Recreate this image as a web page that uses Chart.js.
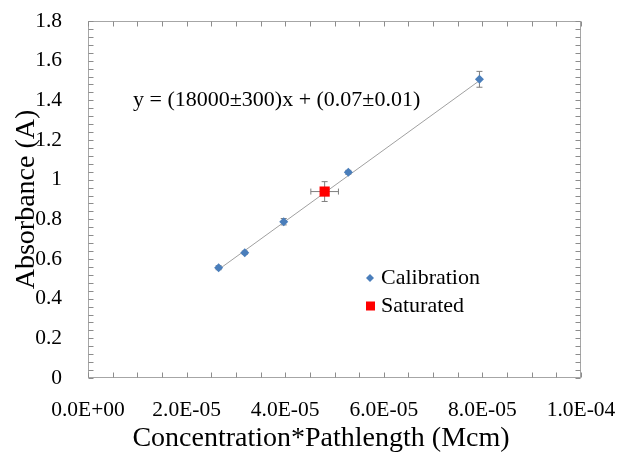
<!DOCTYPE html>
<html lang="en">
<head>
<meta charset="UTF-8" />
<title>Absorbance calibration</title>
<script src="https://cdn.jsdelivr.net/npm/chart.js"></script>
<style>
  html, body { margin: 0; padding: 0; background: #fff; }
  #wrap { width: 619px; height: 452px; }
</style>
</head>
<body>
<div id="wrap"><canvas id="absChart" width="619" height="452"></canvas></div>
<script>
// calibration standards: concentration*pathlength (M cm) vs absorbance
const calX = [2.65e-5, 3.18e-5, 3.97e-5, 5.28e-5, 7.94e-5];
const calY = [0.556, 0.632, 0.788, 1.037, 1.506];
const calYErr = [0.01, 0.008, 0.016, 0.01, 0.04];

// saturated sample placed on the fit
const satX = [4.80e-5];
const satY = [0.94];
const satXErr = [2.8e-6];
const satYErr = [0.05];

// linear fit: y = (18000±300)x + (0.07±0.01)
const fitSlope = 18000;
const fitIntercept = 0.07;
const fitLabel = 'y = (18000±300)x + (0.07±0.01)';

const yTickLabels = ['0', '0.2', '0.4', '0.6', '0.8', '1', '1.2', '1.4', '1.6', '1.8'];
const xTickLabels = ['0.0E+00', '2.0E-05', '4.0E-05', '6.0E-05', '8.0E-05', '1.0E-04'];
const xTitle = 'Concentration*Pathlength (Mcm)';
const yTitle = 'Absorbance (A)';

const serif = "'Liberation Serif', 'Times New Roman', serif";

const fitStart = calX[0];
const fitEnd = calX[calX.length - 1];

// error bars, inward ticks on all four sides, frame, legend, equation, x title
const decorPlugin = {
  id: 'decor',
  beforeDatasetsDraw(chart) {
    const ctx = chart.ctx;
    const xs = chart.scales.x, ys = chart.scales.y;
    const area = chart.chartArea;
    const L = Math.round(area.left) + 0.5, R = Math.round(area.right) - 0.5;
    const T = Math.round(area.top) + 0.5, B = Math.round(area.bottom) - 0.5;
    ctx.save();
    ctx.strokeStyle = '#a6a6a6';
    ctx.lineWidth = 1;
    ctx.strokeRect(L, T, R - L, B - T);
    ctx.strokeStyle = '#8c8c8c';
    ctx.beginPath();
    ys.ticks.forEach(t => {
      const py = Math.round(ys.getPixelForValue(t.value)) + 0.5;
      ctx.moveTo(L, py); ctx.lineTo(L + 5, py);
      ctx.moveTo(R, py); ctx.lineTo(R - 5, py);
    });
    xs.ticks.forEach(t => {
      const px = Math.round(xs.getPixelForValue(t.value)) + 0.5;
      ctx.moveTo(px, B); ctx.lineTo(px, B - 5);
      ctx.moveTo(px, T); ctx.lineTo(px, T + 5);
    });
    ctx.stroke();

    // error bars
    ctx.strokeStyle = '#7f7f7f';
    ctx.lineWidth = 1;
    const cap = 3;
    const vbar = (x, y, e) => {
      const px = xs.getPixelForValue(x);
      const p1 = ys.getPixelForValue(y - e), p2 = ys.getPixelForValue(y + e);
      ctx.beginPath();
      ctx.moveTo(px, p1); ctx.lineTo(px, p2);
      ctx.moveTo(px - cap, p1); ctx.lineTo(px + cap, p1);
      ctx.moveTo(px - cap, p2); ctx.lineTo(px + cap, p2);
      ctx.stroke();
    };
    const hbar = (x, y, e) => {
      const py = ys.getPixelForValue(y);
      const p1 = xs.getPixelForValue(x - e), p2 = xs.getPixelForValue(x + e);
      ctx.beginPath();
      ctx.moveTo(p1, py); ctx.lineTo(p2, py);
      ctx.moveTo(p1, py - cap); ctx.lineTo(p1, py + cap);
      ctx.moveTo(p2, py - cap); ctx.lineTo(p2, py + cap);
      ctx.stroke();
    };
    calX.forEach((x, i) => vbar(x, calY[i], calYErr[i]));
    satX.forEach((x, i) => {
      vbar(x, satY[i], satYErr[i]);
      hbar(x, satY[i], satXErr[i]);
    });
    ctx.restore();
  },
  afterDraw(chart) {
    const ctx = chart.ctx;
    ctx.save();
    ctx.fillStyle = '#000';
    ctx.font = '22px ' + serif;
    ctx.textBaseline = 'middle';
    ctx.fillText(fitLabel, 133, 100);

    // legend for the two marker series
    const items = chart.data.datasets.filter(d => d.legend);
    items.forEach((d, i) => {
      const y = 278 + i * 28;
      ctx.fillStyle = d.backgroundColor;
      if (d.pointStyle === 'rect') {
        ctx.fillRect(366, y - 4.5, 9, 9);
      } else {
        ctx.beginPath();
        ctx.moveTo(370, y - 4);
        ctx.lineTo(374, y);
        ctx.lineTo(370, y + 4);
        ctx.lineTo(366, y);
        ctx.closePath();
        ctx.fill();
      }
      ctx.fillStyle = '#000';
      ctx.font = '22px ' + serif;
      ctx.fillText(d.label, 381, y);
    });

    // x axis title, sitting a little left of the plot centre
    ctx.fillStyle = '#000';
    ctx.font = '28px ' + serif;
    ctx.textAlign = 'center';
    ctx.textBaseline = 'alphabetic';
    ctx.fillText(xTitle, 321, 446);
    ctx.restore();
  }
};

new Chart(document.getElementById('absChart'), {
  type: 'scatter',
  data: {
    datasets: [
      {
        label: 'Fit',
        type: 'line',
        data: [
          { x: fitStart, y: fitSlope * fitStart + fitIntercept },
          { x: fitEnd, y: fitSlope * fitEnd + fitIntercept }
        ],
        borderColor: '#a0a0a0',
        borderWidth: 1,
        pointRadius: 0,
        fill: false,
        order: 3
      },
      {
        label: 'Calibration',
        legend: true,
        data: calX.map((x, i) => ({ x: x, y: calY[i] })),
        pointStyle: 'rectRot',
        pointRadius: 4.5,
        backgroundColor: '#4a7ebb',
        borderColor: '#4a7ebb',
        borderWidth: 0,
        order: 2
      },
      {
        label: 'Saturated',
        legend: true,
        data: satX.map((x, i) => ({ x: x, y: satY[i] })),
        pointStyle: 'rect',
        pointRadius: 7.2,
        backgroundColor: '#ff0000',
        borderColor: '#ff0000',
        borderWidth: 0,
        order: 1
      }
    ]
  },
  options: {
    responsive: false,
    animation: false,
    layout: { padding: { top: 21, right: 38, left: 0, bottom: 0 } },
    plugins: {
      legend: { display: false },
      tooltip: { enabled: false }
    },
    scales: {
      x: {
        type: 'linear',
        min: 0,
        max: 1e-4,
        grid: { display: false },
        border: { display: false },
        ticks: {
          stepSize: 5e-6,
          autoSkip: false,
          maxRotation: 0,
          padding: 11,
          color: '#000',
          font: { family: serif, size: 21.5 },
          callback: (v, i) => (i % 4 === 0 ? xTickLabels[i / 4] : '')
        },
        title: { display: false },
        afterFit: s => {
          s.height = 74;
          s.paddingLeft = 0;
          s.paddingRight = 0;
        }
      },
      y: {
        min: 0,
        max: 1.8,
        grid: { display: false },
        border: { display: false },
        ticks: {
          stepSize: 0.04,
          autoSkip: false,
          padding: 18,
          color: '#000',
          font: { family: serif, size: 21.5 },
          callback: (v, i) => (i % 5 === 0 ? yTickLabels[i / 5] : '')
        },
        title: {
          display: true,
          text: yTitle,
          color: '#000',
          font: { family: serif, size: 28 },
          padding: { top: 10, bottom: 0 }
        },
        afterFit: s => {
          s.width = 88;
          s.paddingTop = 0;
          s.paddingBottom = 0;
        }
      }
    }
  },
  plugins: [decorPlugin]
});
</script>
</body>
</html>
